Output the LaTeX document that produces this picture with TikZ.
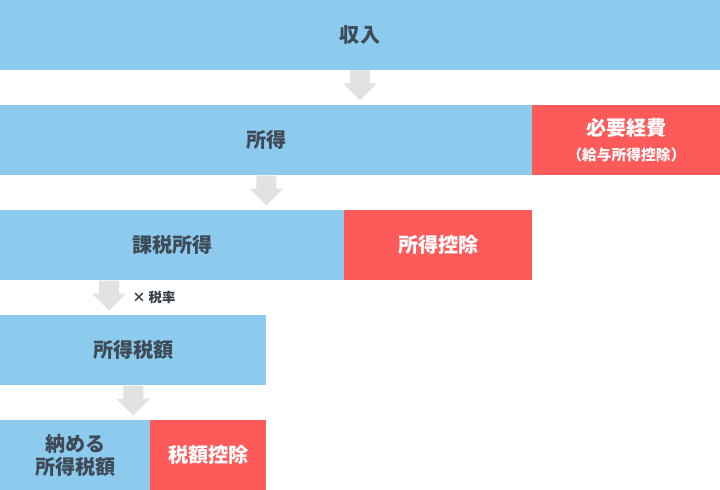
\documentclass[tikz,border=0pt]{standalone}
\usepackage{fontspec}
\setmainfont{Noto Sans CJK JP}
\usetikzlibrary{positioning,calc}
\definecolor{amount}{HTML}{8DCBEE}
\definecolor{deduct}{HTML}{FF5A5A}
\definecolor{ink}{HTML}{3E4A55}
\definecolor{flow}{HTML}{E2E2E2}

% block arrow pointing down, #1 = top centre
\newcommand\flowdown[1]{%
  \fill[flow] (#1) ++(-10,0) -- ++(0,13) -- ++(-7,0) -- ++(17,17)
    -- ++(17,-17) -- ++(-7,0) -- ++(0,-13) -- cycle;}

\begin{document}
\begin{tikzpicture}[
  x=0.025cm, y=-0.025cm,
  font=\bfseries\fontsize{14.3}{16.5}\selectfont,
  box/.style={inner sep=0pt,minimum height=1.75cm,align=center},
  amt/.style={box,fill=amount,text=ink},
  ded/.style={box,fill=deduct,text=white},
  note/.style={font=\bfseries\fontsize{9.5}{11}\selectfont,text=ink!85!black,inner sep=0pt},
]
\useasboundingbox (0,0) rectangle (720,490);

% ---- amounts on the left, deductions in red beside them
\node[amt,minimum width=18cm] (income) at (360,35) {収入};
\node[amt,minimum width=13.3cm,anchor=north west] (shotoku) at (0,105) {所得};
\node[ded,minimum width=4.7cm,right=-0.4pt of shotoku] (keihi)
  {必要経費\\[1pt]{\fontsize{10.5}{13}\selectfont （給与所得控除）}};
\node[amt,minimum width=8.6cm,anchor=north west] (kazei) at (0,210) {課税所得};
\node[ded,minimum width=4.7cm,right=-0.4pt of kazei] (koujo) {所得控除};
\node[amt,minimum width=6.65cm,anchor=north west] (zeigaku) at (0,315) {所得税額};
\node[amt,minimum width=3.75cm,anchor=north west] (nozei) at (0,420) {納める\\所得税額};
\node[ded,minimum width=2.9cm,right=-0.4pt of nozei] (zeikoujo) {税額控除};

% ---- arrows between the rows
\flowdown{income.south}
\flowdown{shotoku.south}
\flowdown{$(kazei.south west)+(109,0)$}
\flowdown{zeigaku.south}
\node[note,anchor=west] (rate) at ($(kazei.south west)+(132,17)$) {× 税率};
\end{tikzpicture}
\end{document}
